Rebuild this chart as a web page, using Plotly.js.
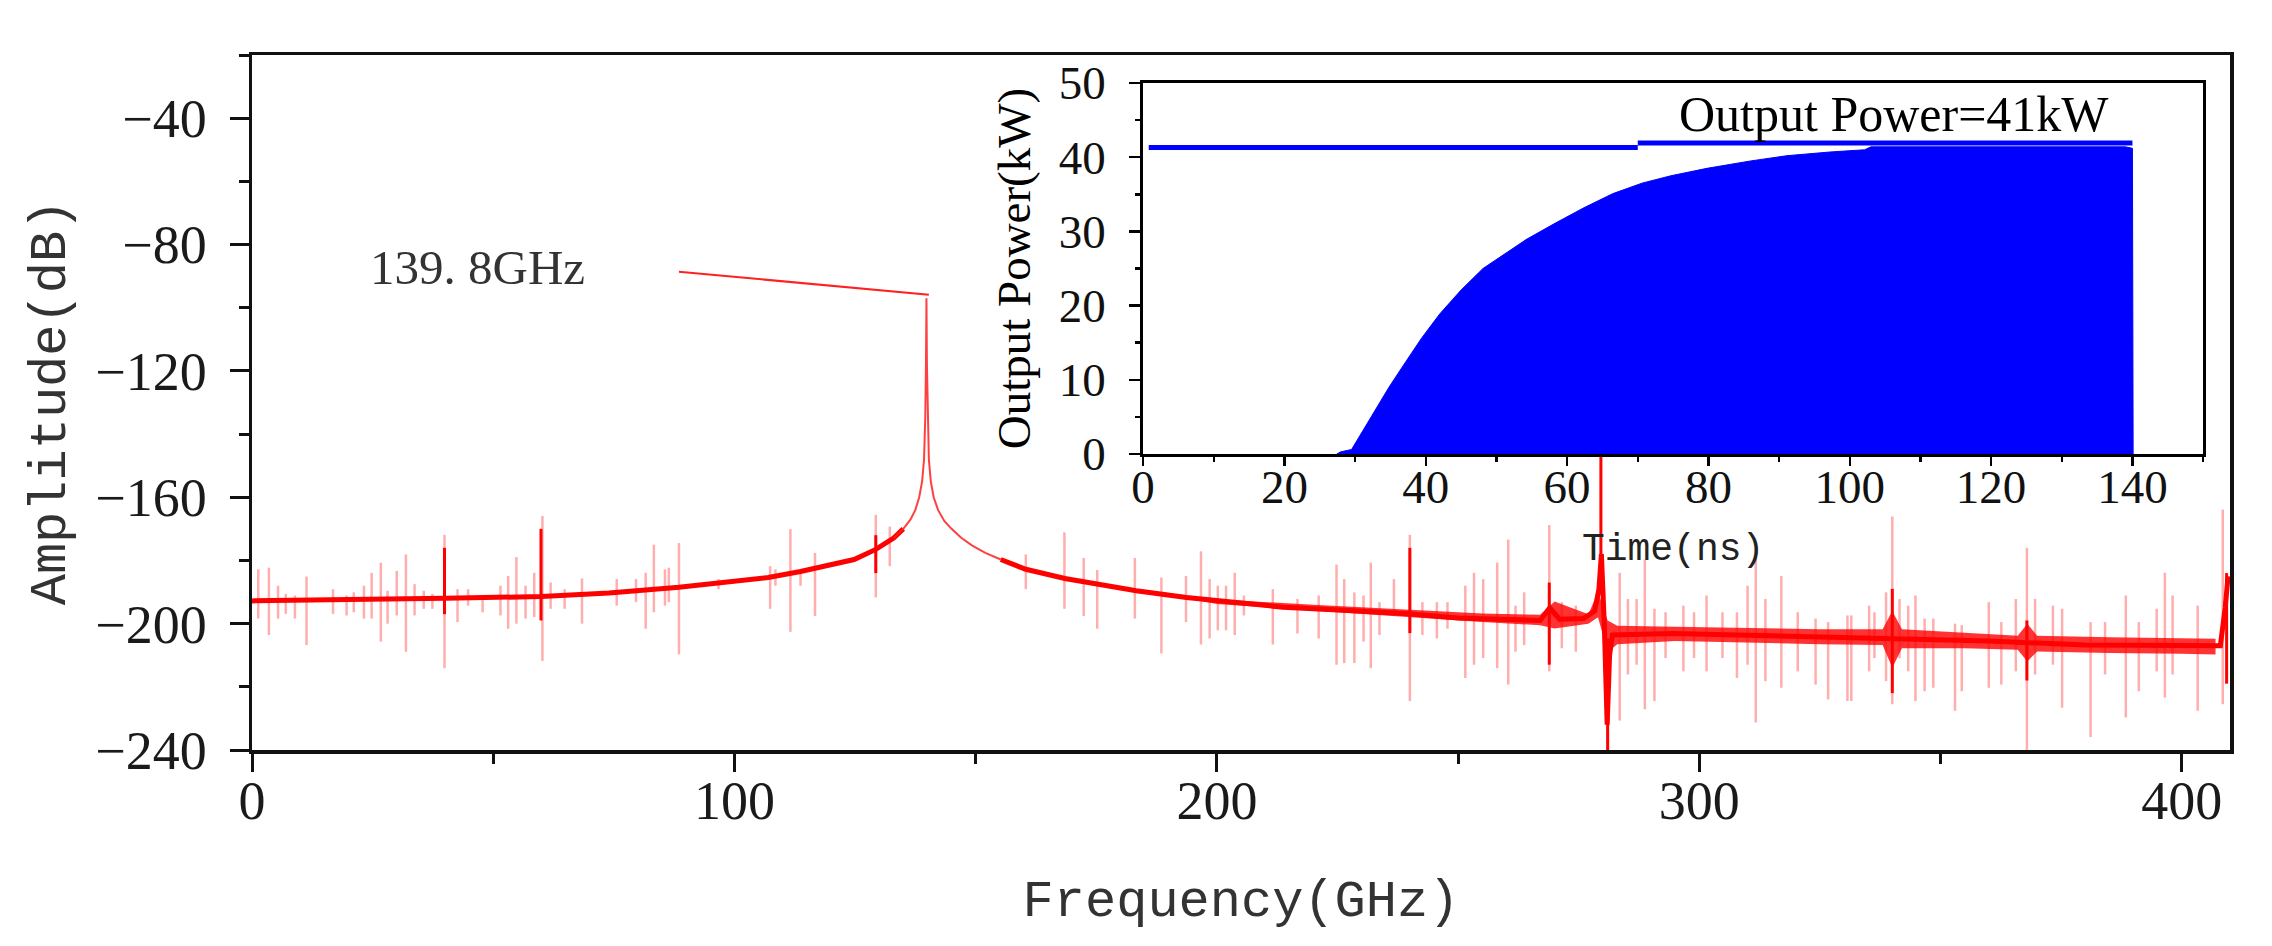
<!DOCTYPE html>
<html>
<head>
<meta charset="utf-8">
<script src="https://cdn.plot.ly/plotly-3.0.1.min.js"></script>
<style>html,body{margin:0;padding:0;background:#fff;}#chart{width:2272px;height:946px;}</style>
</head>
<body>
<div id="chart"></div>
<script>
// ---------------- main spectrum data ----------------
const baseFreqGHz = [0,20,40,60,74,88.5,97.4,107,113.7,118.1,124.8,129.3,133,135,null,155.2,160.4,168.5,176.7,183.3,193.7,202.6,213.7,226.3,239.6,250,261,267,269,271,276,278.3,279.2,279.7,280.3,280.9,281.4,282,294.4,309.3,324,339.5,360,380,405,408,409,409.6];
const baseAmpDb   = [-192.8,-192.5,-192,-191.4,-190.3,-188.5,-187,-185.4,-183.5,-182,-179.7,-176.5,-172.9,-170,null,-179.7,-182.8,-185.7,-188,-189.6,-191.7,-193.2,-194.8,-195.8,-196.9,-198.2,-198.8,-199,-195,-198.6,-198.4,-196,-189,-178,-200,-232,-210,-203.6,-203.1,-203.6,-204.2,-204.6,-205.5,-206.8,-207.3,-207,-195,-185];

const peakFreqGHz = [133,135,136.5,137.5,138.3,138.9,139.3,139.55,139.7,139.8,139.9,140.05,140.3,140.7,141.3,142.2,143.5,145,147,149.3,152,155.2];
const peakAmpDb   = [-172.9,-170,-167,-164,-160,-155,-148,-135,-118,-97,-118,-135,-148,-155,-160,-164,-167.5,-170,-172.8,-175.3,-177.6,-179.7];

const bandFreqGHz = [186,200,220,240,255,267,270,277,279,281,283,295,310,325,338,340,342,355,366,368,370,385,400,407];
const bandUpperDb = [-189.6,-192.3,-194,-195.5,-196.8,-197.2,-193,-197,-190,-199,-200.7,-201,-201.3,-201.8,-201.8,-196,-201.8,-202.8,-203.8,-200,-203.8,-204.3,-204.8,-204.8];
const bandLowerDb = [-189.9,-193.8,-195.8,-198,-199.5,-200.5,-201.5,-200,-198,-209,-206.5,-205.5,-206,-206.5,-206.8,-214,-207.8,-207.8,-208.3,-212,-208.8,-209.3,-209.5,-209.8];

const spikeFreqGHz = [1.3,3.5,5.4,7.0,8.9,11.3,16.8,19.6,21.1,23.2,24.8,26.7,28.1,30.0,31.9,33.7,35.6,37.4,39.9,42.6,44.8,47.8,51.5,53.1,54.8,56.7,58.5,60.2,61.9,64.8,68.4,75.6,79.6,81.6,83.3,85.6,86.4,88.5,96.7,107.4,108.5,111.6,113.7,
 116.7,129.3,132.2,160.4,168.4,172.4,175.2,183.0,188.5,193.6,196.7,198.5,200.2,201.9,203.7,205.6,211.6,216.7,221.1,224.8,226.4,
 228.5,230.4,231.9,233.7,236.7,240.0,242.6,245.6,247.8,251.5,253.3,255.2,258.1,260.4,261.9,263.7,268.9,271.5,274.4,281.0,283.5,285.2,287.0,288.7,290.7,293.0,296.7,298.9,301.5,304.8,307.8,310.0,311.7,313.7,317.0,320.4,324.1,326.7,330.7,331.5,335.2,336.3,338.7,340.0,
 341.5,343.3,344.8,346.7,348.5,353.0,354.4,360.0,362.6,365.6,367.9,369.6,373.3,375.2,381.1,384.1,388.4,391.1,394.8,396.5,398.1,403.3,408.5];
const spikeTopDb = [-182.8,-182.3,-188,-190.6,-191.1,-185.1,-189.1,-191.1,-190.1,-188,-183.9,-180.7,-189.6,-183.3,-178.1,-187.5,-189.6,-190.6,-171.9,-189.1,-189.1,-191.1,-188,-184.9,-178.9,-188,-183.9,-165.9,-187,-189.1,-185.7,-185.9,-185.9,-183.9,-175,-182.8,-182.3,-174.5,-185.9,-181.8,-182.8,-170.1,-182.8,
 -177.6,-165.6,-169.3,-178.1,-171.1,-179.2,-183,-179.2,-185.4,-184.9,-177.1,-185.9,-188,-188,-183.9,-191.1,-189.1,-192.2,-191.1,-181.3,-185.9,
 -190.1,-191.1,-180.7,-193.2,-185.9,-171.9,-193.2,-193.2,-193.2,-188,-183.9,-185.9,-180.7,-173.4,-194.3,-190.1,-168.8,-193.2,-194.3,-210.9,-183.9,-192.2,-192.2,-179.7,-195.3,-196.4,-194.3,-196.4,-191.1,-196.4,-196.4,-188,-179.2,-192.2,-184.9,-196.4,-198.4,-199.5,-197.4,-197.4,-194.3,-196.4,-190.1,-166.1,
 -192.2,-194.3,-191.1,-198.4,-198.4,-200,-200.5,-193.2,-199.5,-192.2,-176,-192.2,-194.3,-195.3,-199.5,-199.5,-191.1,-199.5,-195.3,-183.9,-191.1,-194.3,-163.9];
const spikeBottomDb = [-198.4,-203.6,-198.4,-196.9,-198.4,-206.8,-196.9,-197.4,-196.4,-198.4,-198.4,-205.7,-200,-197.4,-208.9,-197.4,-195.3,-195.3,-214.1,-199.5,-194.3,-196.4,-197.4,-201.6,-200,-198.4,-197.9,-211.8,-195.3,-195.3,-200,-194.3,-193.2,-201.6,-196.4,-194.3,-193.2,-209.7,-189.1,-195.3,-188,-202.6,-188,
 -197.6,-191.7,-181.8,-189.1,-195.3,-197.6,-201.6,-198.4,-209.4,-199.5,-206.6,-204.7,-202.1,-202.1,-203.6,-197.4,-206.6,-203.1,-204.7,-213,-212.5,
 -212.5,-205.7,-214.1,-203.6,-197.4,-224.5,-203.6,-204.7,-201.6,-217.2,-213,-210.9,-214.1,-219.3,-208.9,-206.8,-215.1,-207.8,-208.9,-240,-230.7,-216.1,-213,-227.1,-224.5,-210.9,-215.1,-210.9,-215.1,-210.9,-217.2,-213,-231.3,-218.2,-220.3,-215.1,-219.3,-224,-224.5,-224.5,-215.1,-210.9,-218.2,-225.5,
 -210.9,-215.1,-224.5,-221.4,-220.3,-227.6,-221.4,-220.3,-219.3,-215.1,-240,-216.1,-213,-226.6,-235.9,-216.1,-229.7,-221.4,-215.1,-223.4,-216.1,-227.6,-225.5];

const strongFreqGHz = [39.9,59.9,129.3,240.0,268.9,279.6,281.0,340.0,367.9,409.3];
const strongTopDb   = [-176,-170,-172,-176,-187,-140,-204.7,-189,-199,-184];
const strongBottomDb= [-197,-199,-184,-203,-213,-184,-240,-222,-218,-219];

const xTickGHz = [0,100,200,300,400];
const yTickDb  = [-240,-200,-160,-120,-80,-40];
const peakLabel = '139. 8GHz';
const leaderFreqGHz = [88.5,140.3];
const leaderAmpDb   = [-88.6,-95.9];

// ---------------- inset data ----------------
const timeNs = [27.4,28.0,29.5,30.7,32.7,34.8,36.8,39.4,42.0,45.0,48.1,51.2,54.2,58.3,62.4,66.5,70.6,74.7,79.8,86.0,91.1,97.2,102.1,103,139,140,140.1];
const envelopeKW = [0,0.3,0.6,2.5,5.7,9.0,11.9,15.6,18.9,22.1,25.0,27.0,28.9,31.1,33.2,35.1,36.5,37.5,38.5,39.5,40.2,40.7,41.0,41.4,41.4,41.2,0];
const refTimeNs = [0.8,70,null,70,140];
const refPowerKW = [41.3,41.3,null,41.9,41.9];
const timeTicks = [0,20,40,60,80,100,120,140];
const powerTicks = [0,10,20,30,40,50];
const insetLabel = 'Output Power=41kW';

// ---------------- build traces ----------------
function segs(f, top, bot){
  const xs=[], ys=[];
  for(let i=0;i<f.length;i++){ xs.push(f[i],f[i],null); ys.push(bot[i],top[i],null); }
  return {xs, ys};
}
const faint = segs(spikeFreqGHz, spikeTopDb, spikeBottomDb);
const strong = segs(strongFreqGHz, strongTopDb, strongBottomDb);

const traces = [
  {x: faint.xs, y: faint.ys, mode:'lines', line:{color:'rgba(255,0,0,0.32)', width:2.5}, hoverinfo:'skip', showlegend:false},
  {x: bandFreqGHz.concat(bandFreqGHz.slice().reverse()), y: bandUpperDb.concat(bandLowerDb.slice().reverse()),
   mode:'lines', fill:'toself', fillcolor:'rgba(255,0,0,0.8)', line:{width:0, color:'rgba(255,0,0,0)'}, hoverinfo:'skip', showlegend:false},
  {x: strong.xs, y: strong.ys, mode:'lines', line:{color:'#ff0000', width:3}, hoverinfo:'skip', showlegend:false},
  {x: baseFreqGHz, y: baseAmpDb, mode:'lines', line:{color:'#ff0000', width:5}, connectgaps:false, showlegend:false},
  {x: peakFreqGHz, y: peakAmpDb, mode:'lines', line:{color:'rgba(255,30,30,0.85)', width:2}, showlegend:false},
  {x: leaderFreqGHz, y: leaderAmpDb, mode:'lines', line:{color:'#ff2020', width:2}, hoverinfo:'skip', showlegend:false},
  // inset
  {x: timeNs, y: envelopeKW, xaxis:'x2', yaxis:'y2', mode:'lines', fill:'tozeroy', fillcolor:'#0000ff', line:{color:'#0000ff', width:1}, showlegend:false},
  {x: refTimeNs, y: refPowerKW, xaxis:'x2', yaxis:'y2', mode:'lines', line:{color:'#0000ff', width:5}, connectgaps:false, showlegend:false}
];

const tickFontMain = {family:'Liberation Serif, serif', size:54, color:'#1a1a1a'};
const tickFontInset = {family:'Liberation Serif, serif', size:47, color:'#111'};

const layout = {
  width:2272, height:946,
  paper_bgcolor:'#ffffff', plot_bgcolor:'white',
  margin:{l:252, r:42, t:55, b:196},
  showlegend:false,
  xaxis:{
    domain:[0,1], range:[0,410], tickvals:xTickGHz, ticktext:xTickGHz.map(String),
    ticks:'outside', ticklen:18, tickwidth:3, tickcolor:'#111',
    minor:{dtick:50, tick0:0, ticks:'outside', ticklen:10, tickwidth:3, tickcolor:'#111'},
    showline:true, linewidth:3.5, linecolor:'#111', mirror:true,
    showgrid:false, zeroline:false, tickfont:tickFontMain, ticklabelstandoff:-17,
    title:{text:'Frequency(GHz)', font:{family:'Liberation Mono, monospace', size:52, color:'#333'}, standoff:50}
  },
  yaxis:{
    domain:[0,1], range:[-240,-20], tickvals:yTickDb, ticktext:yTickDb.map(v=>'\u2212'+Math.abs(v)),
    ticks:'outside', ticklen:19, tickwidth:3, tickcolor:'#111',
    minor:{dtick:20, tick0:-240, ticks:'outside', ticklen:10, tickwidth:3, tickcolor:'#111'},
    showline:true, linewidth:3.5, linecolor:'#111', mirror:true,
    showgrid:false, zeroline:false, tickfont:tickFontMain, ticklabelstandoff:12,
    title:{text:'Amplitude(dB)', font:{family:'Liberation Mono, monospace', size:52, color:'#333'}, standoff:14}
  },
  xaxis2:{
    domain:[0.4505,0.9864], anchor:'y2', range:[0,150], tickvals:timeTicks,
    ticks:'outside', ticklen:9, tickwidth:2.5, tickcolor:'#000',
    minor:{dtick:10, tick0:0, ticks:'outside', ticklen:5, tickwidth:2.5, tickcolor:'#000'},
    showline:true, linewidth:3, linecolor:'#000', mirror:true,
    showgrid:false, zeroline:false, tickfont:tickFontInset, ticklabelstandoff:-19,
    title:{text:'Time(ns)', font:{family:'Liberation Mono, monospace', size:38, color:'#222'}, standoff:22}
  },
  yaxis2:{
    domain:[0.4259,0.9597], anchor:'x2', range:[0,50], tickvals:powerTicks,
    ticks:'outside', ticklen:11, tickwidth:2.5, tickcolor:'#000',
    minor:{dtick:5, tick0:0, ticks:'outside', ticklen:5, tickwidth:2.5, tickcolor:'#000'},
    showline:true, linewidth:3, linecolor:'#000', mirror:true,
    showgrid:false, zeroline:false, tickfont:tickFontInset, ticklabelstandoff:14,
    title:{text:'Output Power(kW)', font:{family:'Liberation Serif, serif', size:47, color:'#000'}, standoff:14}
  },
  annotations:[
    {xref:'x', yref:'y', x:46.7, y:-87.2, text:peakLabel, showarrow:false,
     font:{family:'Liberation Serif, serif', size:49, color:'#333'}},
    {xref:'x2', yref:'y2', x:106.2, y:45.8, text:insetLabel, showarrow:false,
     font:{family:'Liberation Serif, serif', size:50, color:'#000'}}
  ]
};

Plotly.newPlot('chart', traces, layout, {staticPlot:true, displayModeBar:false});
</script>
</body>
</html>
